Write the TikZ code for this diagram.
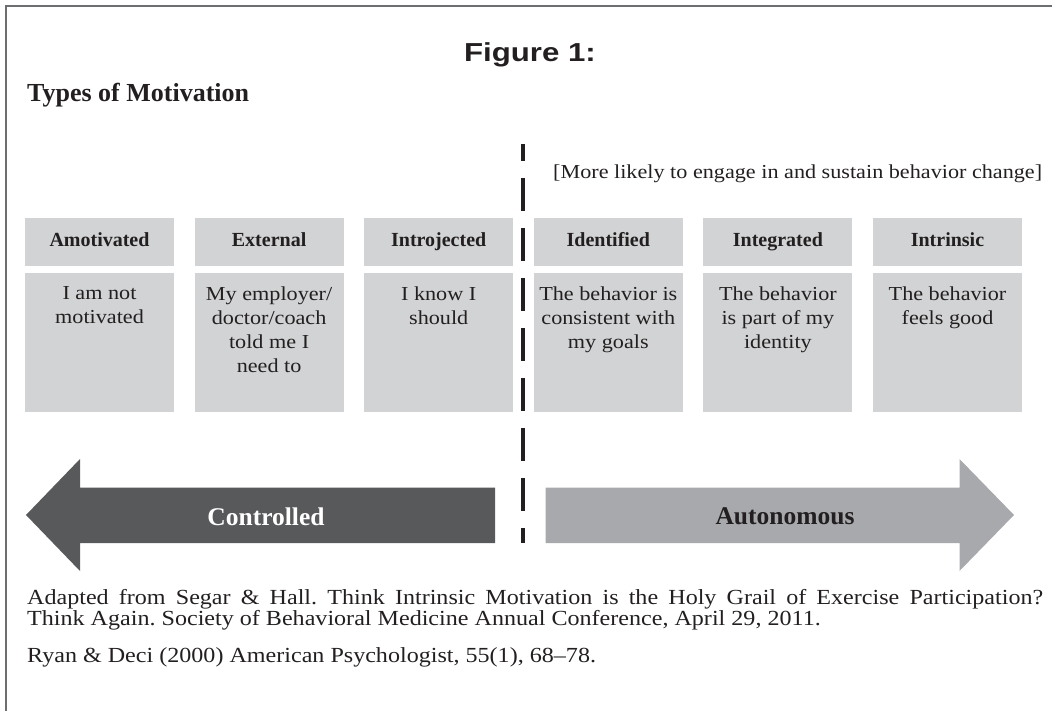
\documentclass[tikz,border=0pt]{standalone}
\usepackage{fontspec}
\setmainfont{Liberation Serif}
\newfontfamily\capfont{Liberation Serif}[FakeStretch=1.12]
\newfontfamily\figfont{Liberation Sans}[FakeStretch=1.2]
\usepackage{tikz}
\usetikzlibrary{positioning}
\definecolor{ink}{HTML}{231F20}
\definecolor{boxgray}{HTML}{D1D3D4}
\definecolor{darkarrow}{HTML}{58595B}
\definecolor{lightarrow}{HTML}{A7A9AC}
\definecolor{framegray}{HTML}{6D6E71}
\frenchspacing

\begin{document}
\begin{tikzpicture}[x=1pt,y=-1pt,node distance=20.2pt,
    every node/.style={text=ink},
    head/.style={fill=boxgray,minimum width=149pt,minimum height=48pt,inner sep=0pt,text height=14pt,text depth=4pt,font=\fontsize{20}{24}\selectfont\bfseries},
    desc/.style={fill=boxgray,minimum width=149pt,minimum height=139pt,inner sep=0pt,
        label={[anchor=north,yshift=-13pt,align=center,inner sep=0pt,font=\capfont\fontsize{19.8}{24}\selectfont]north:{#1}}},
    divider/.style={line width=4pt,draw=ink,dash pattern=on 33pt off 17pt,dash phase=16pt}]
    \useasboundingbox (0,0) rectangle (1052,711);
    \draw[framegray,line width=2pt] (1052,6) -- (6,6) -- (6,711);

    \node[anchor=base,font=\figfont\fontsize{26}{30}\selectfont\bfseries] (fig) at (530,62) {Figure 1:};
    \node[anchor=base west,inner sep=0pt,font=\fontsize{26}{30}\selectfont\bfseries] (types) at (27,102) {Types of Motivation};
    \node[anchor=base west,inner sep=0pt,font=\capfont\fontsize{19.8}{24}\selectfont] (more) at (553,179) {[More likely to engage in and sustain behavior change]};

    % type headers
    \node[head] (amo) at (99.5,242) {Amotivated};
    \node[head,right=of amo] (ext) {External};
    \node[head,right=of ext] (intro) {Introjected};
    \node[head,right=of intro] (iden) {Identified};
    \node[head,right=of iden] (integ) {Integrated};
    \node[head,right=of integ] (intr) {Intrinsic};

    % descriptions
    \node[desc={I am not\\motivated},below=7pt of amo] (amo2) {};
    \node[desc={My employer/\\doctor/coach\\told me I\\need to},below=7pt of ext] (ext2) {};
    \node[desc={I know I\\should},below=7pt of intro] (intro2) {};
    \node[desc={The behavior is\\consistent with\\my goals},below=7pt of iden] (iden2) {};
    \node[desc={The behavior\\is part of my\\identity},below=7pt of integ] (integ2) {};
    \node[desc={The behavior\\feels good},below=7pt of intr] (intr2) {};

    \coordinate (divtop) at (523,144);
    \coordinate (divbot) at (523,543);
    \draw[divider] (divtop) -- (divbot);

    % arrows
    \fill[darkarrow] (26,515) -- (80,459) -- (80,487.5) -- (495,487.5) -- (495,543) -- (80,543) -- (80,571) -- cycle;
    \fill[lightarrow] (1014,515) -- (959.5,459) -- (959.5,487.5) -- (545.5,487.5) -- (545.5,543) -- (959.5,543) -- (959.5,571) -- cycle;
    \node[anchor=base,text=white,font=\fontsize{25.5}{30}\selectfont\bfseries] (ctrl) at (266,525) {Controlled};
    \node[anchor=base,font=\fontsize{25.5}{30}\selectfont\bfseries] (auto) at (785,524) {Autonomous};

    \node[anchor=north west,text width=1016pt,align=justify,inner sep=0pt,font=\capfont\fontsize{21.5}{21}\selectfont] (src) at (27,589)
        {Adapted from Segar \& Hall. Think Intrinsic Motivation is the Holy Grail of Exercise Participation?\linebreak
         Think Again. Society of Behavioral Medicine Annual Conference, April 29, 2011.};
    \node[anchor=base west,inner sep=0pt,font=\capfont\fontsize{21.5}{21}\selectfont] (ryan) at (27,662) {Ryan \& Deci (2000) American Psychologist, 55(1), 68–78.};
\end{tikzpicture}
\end{document}
